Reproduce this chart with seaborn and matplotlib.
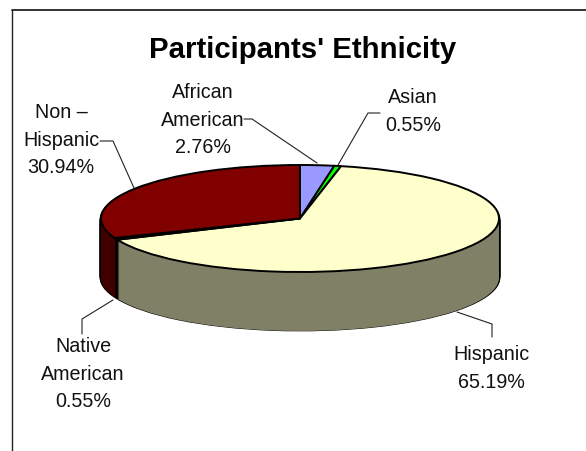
import numpy as np
import seaborn as sns
import matplotlib.pyplot as plt
from matplotlib.lines import Line2D

# --------------------------------------------------------------
# Data
# --------------------------------------------------------------
groups = ["African\nAmerican", "Asian", "Hispanic", "Native\nAmerican", "Non \u2013\nHispanic"]
shares = [2.76, 0.55, 65.19, 0.55, 30.94]
top_colors = ["#9999FF", "#00FF00", "#FFFFCC", "#000000", "#800000"]
wall_colors = ["#4C4C80", "#008000", "#808066", "#000000", "#400000"]

# label centre in pixels, same order as groups
label_pos = [(203, 120), (413, 111.5), (491.5, 368.5), (83, 374), (61, 140)]

# leader lines in pixels
leaders = [
    [(244, 119), (252, 119), (317, 163)],
    [(380, 113), (368, 113), (338, 165)],
    [(492, 337), (492, 324), (457, 312)],
    [(82, 334), (82, 319), (113, 300)],
    [(100, 141), (113, 141), (134, 188)],
]

W, H = 586, 451
CX, CY, RX, RY = 300, 218.5, 199, 53.5
DEPTH = 59

sns.set_style("white")
plt.rcParams["font.family"] = ["Liberation Sans", "DejaVu Sans"]

fig = plt.figure(figsize=(W / 100, H / 100), dpi=100)
ax = fig.add_axes([0, 0, 1, 1])


def px(x, y):
    return x / W, 1 - y / H


def draw_disc(colors, dy, radius=1.0, edge=None):
    # dy is in pie units, the y axis is squashed afterwards
    props = {"linewidth": 0} if edge is None else {"edgecolor": edge, "linewidth": 1.4}
    ax.pie(shares, colors=colors, startangle=90, counterclock=False,
           center=(0, -dy), radius=radius, wedgeprops=props)


steps = np.arange(DEPTH, 0, -1) / RY

# black silhouette first, gives the side and bottom outline
for dy in steps:
    draw_disc(["black"] * len(shares), dy, radius=1.007)
for dy in steps:
    draw_disc(wall_colors, dy)
draw_disc(top_colors, 0, edge="black")

ax.set_aspect("auto")
ax.set_xlim(-CX / RX, (W - CX) / RX)
ax.set_ylim(-(H - CY) / RY, CY / RY)
ax.axis("off")

# chart frame, only top and left are in the picture
fig.add_artist(Line2D([12 / W, 1], [1 - 10 / H, 1 - 10 / H], color="#333333", lw=1.4))
fig.add_artist(Line2D([12 / W, 12 / W], [1 - 10 / H, 0], color="#222222", lw=1.0))

fig.text(*px(302.5, 50), "Participants' Ethnicity", fontsize=21.2, fontweight="bold",
         ha="center", va="center", color="black")

for name, share, (x, y) in zip(groups, shares, label_pos):
    fig.text(*px(x, y), f"{name}\n{share:.2f}%", fontsize=14.2, ha="center", va="center",
             linespacing=1.55, color="#111111")

for pts in leaders:
    xs, ys = zip(*[px(*p) for p in pts])
    fig.add_artist(Line2D(xs, ys, color="#222222", lw=0.8))

fig.savefig("out.png", dpi=100)
